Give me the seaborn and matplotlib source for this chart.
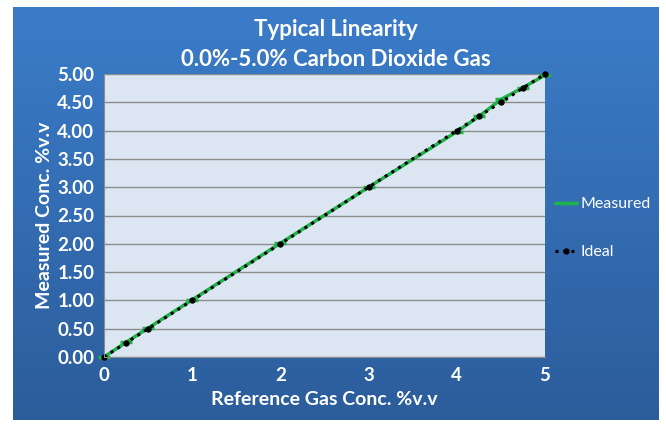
import numpy as np
import pandas as pd
import matplotlib
matplotlib.use("Agg")
import matplotlib.pyplot as plt
import seaborn as sns

# reference gas concentrations and readings
ref_conc = [0.0, 0.25, 0.5, 1.0, 2.0, 3.0, 4.0, 4.25, 4.5, 4.75, 5.0]
measured = [0.0, 0.26, 0.51, 1.01, 2.01, 3.0, 3.98, 4.25, 4.55, 4.76, 4.98]
ideal = [0.0, 0.25, 0.5, 1.0, 2.0, 3.0, 4.0, 4.25, 4.5, 4.75, 5.0]
yticks = [0, 0.5, 1, 1.5, 2, 2.5, 3, 3.5, 4, 4.5, 5]
xticks = [0, 1, 2, 3, 4, 5]

df = pd.DataFrame({"ref": ref_conc, "Measured": measured, "Ideal": ideal})

sns.set_style("white")
plt.rcParams["font.family"] = ["Lato", "DejaVu Sans"]

fig = plt.figure(figsize=(6.66, 4.26), dpi=100)
fig.patch.set_facecolor("white")

# blue gradient background panel
bg = fig.add_axes([13/666, 1-420/426, 646/666, 413/426])
grad = np.linspace(0, 1, 256).reshape(-1, 1)
cmap = matplotlib.colors.LinearSegmentedColormap.from_list("bg", ["#3b7cc9", "#2c5d9b"])
bg.imshow(grad, aspect="auto", cmap=cmap, extent=[0, 1, 0, 1])
bg.set_axis_off()

ax = fig.add_axes([104/666, 1-357/426, 441/666, 283/426])
ax.set_facecolor("#dce6f2")
sns.lineplot(data=df, x="ref", y="Measured", ax=ax, color="#1fb24a", lw=2.5,
             marker="_", markersize=8, markeredgewidth=2.5,
             markeredgecolor="#1fb24a", label="Measured", clip_on=False)
sns.lineplot(data=df, x="ref", y="Ideal", ax=ax, color="black", lw=2.2,
             linestyle=(0, (1, 1.6)), marker="o", markersize=3.8,
             markeredgecolor="black", label="Ideal", clip_on=False)

ax.set_xlim(0, 5)
ax.set_ylim(0, 5)
ax.set_xticks(xticks)
ax.set_yticks(yticks)
ax.set_yticklabels([f"{v:.2f}" for v in yticks])
ax.yaxis.grid(True, color="#8c8c8c", lw=1)
ax.xaxis.grid(False)
for s in ["top", "right"]:
    ax.spines[s].set_visible(False)
for s in ["left", "bottom"]:
    ax.spines[s].set_color("#8c8c8c")
ax.tick_params(colors="white", labelsize=13.5, length=0, pad=7)
for lab in ax.get_xticklabels() + ax.get_yticklabels():
    lab.set_fontweight("bold")
ax.set_xlabel("Reference Gas Conc. %v.v", color="white", fontsize=14, fontweight="bold", labelpad=5)
ax.set_ylabel("Measured Conc. %v.v", color="white", fontsize=14, fontweight="bold", labelpad=3)

fig.text(336/666, 1-29/426, "Typical Linearity", ha="center", va="center",
         color="white", fontsize=16, fontweight="bold")
fig.text(336/666, 1-59/426, "0.0%-5.0% Carbon Dioxide Gas", ha="center", va="center",
         color="white", fontsize=16, fontweight="bold")

leg = ax.legend(loc="center left", bbox_to_anchor=(1.0, 0.455), frameon=False,
                labelcolor="white", fontsize=11.5, handlelength=1.4, labelspacing=2.1,
                handletextpad=0.25, borderaxespad=0.2)

fig.savefig("out.png", dpi=100)
